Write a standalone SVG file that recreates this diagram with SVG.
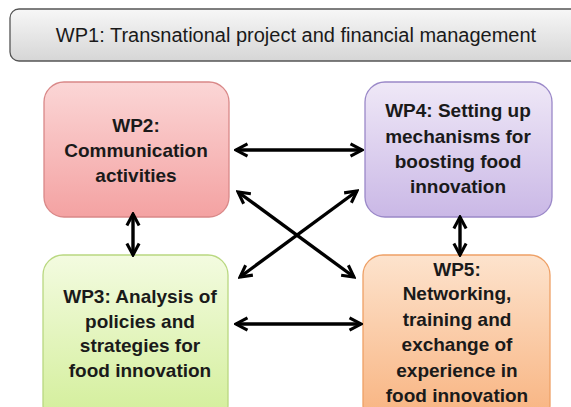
<svg xmlns="http://www.w3.org/2000/svg" width="571" height="407" viewBox="0 0 571 407">
<style>
.t{font-family:"Liberation Sans",Arial,sans-serif;font-size:19px;fill:#1a1a1a;text-anchor:middle}
.b{font-weight:bold}
.h{font-size:20px}
.c{fill:none;stroke:#000;stroke-width:3.4;marker-start:url(#ah);marker-end:url(#ah)}
</style>
<defs>
<linearGradient id="g1" x1="0" y1="0" x2="0" y2="1"><stop offset="0" stop-color="#f7f7f7"/><stop offset="1" stop-color="#d6d6d6"/></linearGradient>
<linearGradient id="g2" x1="0" y1="0" x2="0" y2="1"><stop offset="0" stop-color="#fbd6d6"/><stop offset="1" stop-color="#f4a2a2"/></linearGradient>
<linearGradient id="g4" x1="0" y1="0" x2="0" y2="1"><stop offset="0" stop-color="#efe8f7"/><stop offset="1" stop-color="#cab8e6"/></linearGradient>
<linearGradient id="g3" x1="0" y1="0" x2="0" y2="1"><stop offset="0" stop-color="#f3fbe0"/><stop offset="1" stop-color="#d2ee98"/></linearGradient>
<linearGradient id="g5" x1="0" y1="0" x2="0" y2="1"><stop offset="0" stop-color="#fde3cd"/><stop offset="1" stop-color="#f8b27e"/></linearGradient>
<marker id="ah" viewBox="0 0 10 10" refX="8.5" refY="5" markerWidth="4.5" markerHeight="4.5" orient="auto-start-reverse" markerUnits="strokeWidth">
<path d="M1,1 L8.5,5 L1,9" fill="none" stroke="#000" stroke-width="2"/>
</marker>
</defs>
<g id="wp1">
<rect x="10" y="9" width="580" height="52" rx="9" fill="url(#g1)" stroke="#555" stroke-width="1.3"/>
<text class="t h" x="296" y="42">WP1: Transnational project and financial management</text>
</g>
<g id="wp2">
<rect x="44" y="82" width="185" height="135" rx="20" fill="url(#g2)" stroke="#d98888" stroke-width="1.3"/>
<text class="t b" x="136" y="132">WP2:</text>
<text class="t b" x="136" y="157">Communication</text>
<text class="t b" x="136" y="182">activities</text>
</g>
<g id="wp4">
<rect x="365" y="82" width="187" height="135" rx="20" fill="url(#g4)" stroke="#9a88c8" stroke-width="1.3"/>
<text class="t b" x="458" y="117">WP4: Setting up</text>
<text class="t b" x="458" y="143">mechanisms for</text>
<text class="t b" x="458" y="168">boosting food</text>
<text class="t b" x="458" y="193">innovation</text>
</g>
<g id="wp3">
<rect x="43" y="255" width="185" height="170" rx="20" fill="url(#g3)" stroke="#b9d880" stroke-width="1.3"/>
<text class="t b" x="140" y="303">WP3: Analysis of</text>
<text class="t b" x="140" y="328">policies and</text>
<text class="t b" x="140" y="352">strategies for</text>
<text class="t b" x="140" y="377">food innovation</text>
</g>
<g id="wp5">
<rect x="363" y="255" width="187" height="170" rx="20" fill="url(#g5)" stroke="#eea066" stroke-width="1.3"/>
<text class="t b" x="457" y="276">WP5:</text>
<text class="t b" x="457" y="300">Networking,</text>
<text class="t b" x="457" y="326">training and</text>
<text class="t b" x="457" y="351">exchange of</text>
<text class="t b" x="457" y="377">experience in</text>
<text class="t b" x="457" y="402">food innovation</text>
</g>
<g id="connectors">
<line class="c" x1="236" y1="150" x2="362" y2="150"/>
<line class="c" x1="236" y1="324" x2="361" y2="324"/>
<line class="c" x1="238" y1="192" x2="354" y2="277"/>
<line class="c" x1="357" y1="191" x2="240" y2="277"/>
<line class="c" x1="133" y1="214" x2="133" y2="255"/>
<line class="c" x1="460" y1="217" x2="460" y2="255"/>
</g>
</svg>
